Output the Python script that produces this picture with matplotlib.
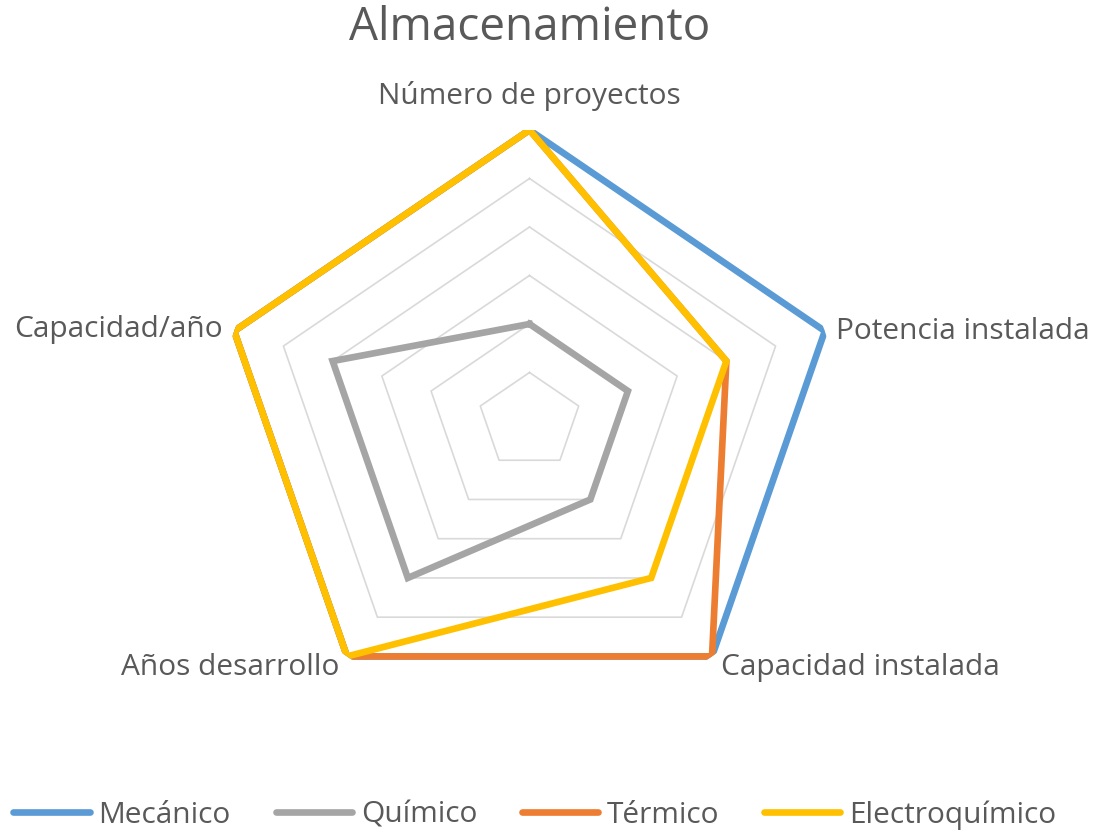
import numpy as np
import matplotlib
matplotlib.use("Agg")
import matplotlib.pyplot as plt
from matplotlib.lines import Line2D

categories = ["Número de proyectos", "Potencia instalada", "Capacidad instalada",
              "Años desarrollo", "Capacidad/año"]
series_names = ["Mecánico", "Químico", "Térmico", "Electroquímico"]
mecanico = [6, 6, 6, 6, 6]
quimico = [2, 2, 2, 4, 4]
termico = [6, 4, 6, 6, 6]
electroquimico = [6, 4, 4, 6, 6]
colors = ["#5B9BD5", "#A5A5A5", "#ED7D31", "#FFC000"]
grid_levels = [1, 2, 3, 4, 5, 6]

FONT = "Open Sans"
TXT = "#595959"

fig = plt.figure(figsize=(10.97, 8.31), dpi=100)
W, H = 1097, 831
cx, cy, Rh, Rv = 529.5, 421, 310.5, 291
ax = fig.add_axes([(cx - Rh) / W, 1 - (cy + Rv) / H, 2 * Rh / W, 2 * Rv / H],
                  projection="polar")
ax.set_aspect("auto")
ax.set_theta_offset(np.pi / 2)
ax.set_theta_direction(-1)
ax.set_ylim(0, 6)
ax.axis("off")

n = len(categories)
angles = np.arange(n) * 2 * np.pi / n
ang_closed = np.concatenate([angles, angles[:1]])

for lv in grid_levels:
    ax.plot(ang_closed, [lv] * (n + 1), color="#D9D9D9", lw=1.2, zorder=1)

for vals, col in zip([mecanico, quimico, termico, electroquimico], colors):
    v = list(vals) + [vals[0]]
    ax.plot(ang_closed, v, color=col, lw=4.8, solid_joinstyle="miter", zorder=3)

fs = 21.5
offsets = [((0, 19), "center", "bottom"),
           ((11, 0), "left", "center"),
           ((9, -11), "left", "center"),
           ((-8, -11), "right", "center"),
           ((-11, 2), "right", "center")]
for a, lab, (off, ha, va) in zip(angles, categories, offsets):
    ax.annotate(lab, xy=(a, 6), xytext=off, textcoords="offset pixels",
                ha=ha, va=va, fontsize=fs, color=TXT, family=FONT)

fig.text(cx / W, 1 - 28 / H, "Almacenamiento", ha="center", va="center",
         fontsize=33, color=TXT, family=FONT)

handles = [Line2D([], [], color=c, lw=4.8, solid_capstyle="round") for c in colors]
fig.legend(handles, series_names, loc="center", bbox_to_anchor=(535 / W, 1 - 815 / H),
           ncol=4, frameon=False, handlelength=2.55, handletextpad=0.3,
           columnspacing=1.5, prop={"family": FONT, "size": fs},
           labelcolor=TXT)

fig.savefig("out.png", dpi=100, facecolor="white")
